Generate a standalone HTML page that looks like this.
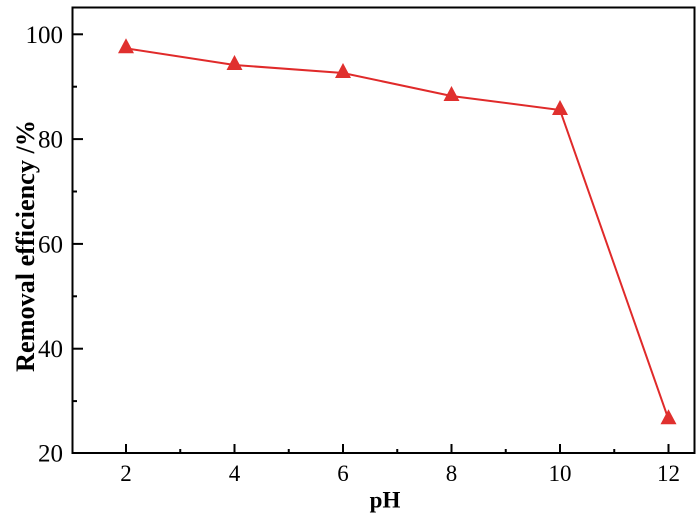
<!DOCTYPE html>
<html>
<head>
<meta charset="utf-8">
<style>
  html, body { margin: 0; padding: 0; background: #fff; }
  svg { display: block; }
  text { font-family: "Liberation Serif", "Times New Roman", serif; fill: #000; }
</style>
</head>
<body>
<svg width="700" height="516" viewBox="0 0 700 516" xmlns="http://www.w3.org/2000/svg">
  <rect x="0" y="0" width="700" height="516" fill="#fff"/>

  <!-- data line -->
  <polyline points="126,48.3 234.5,65 343,73 451.5,96 560,110 668.5,419.3"
            fill="none" stroke="#e02a2a" stroke-width="2"/>

  <!-- markers -->
  <g fill="#e0302e">
    <polygon points="126,38.3 118,53.3 134,53.3"/>
    <polygon points="234.5,55 226.5,70 242.5,70"/>
    <polygon points="343,63 335,78 351,78"/>
    <polygon points="451.5,86 443.5,101 459.5,101"/>
    <polygon points="560,100 552,115 568,115"/>
    <polygon points="668.5,409.3 660.5,424.3 676.5,424.3"/>
  </g>

  <!-- frame -->
  <rect x="72.5" y="7.5" width="622" height="445.5" fill="none" stroke="#000" stroke-width="2"/>

  <!-- bottom ticks -->
  <g stroke="#000" stroke-width="2">
    <line x1="126" y1="453" x2="126" y2="444"/>
    <line x1="234.5" y1="453" x2="234.5" y2="444"/>
    <line x1="343" y1="453" x2="343" y2="444"/>
    <line x1="451.5" y1="453" x2="451.5" y2="444"/>
    <line x1="560" y1="453" x2="560" y2="444"/>
    <line x1="668.5" y1="453" x2="668.5" y2="444"/>
    <line x1="180.25" y1="453" x2="180.25" y2="449"/>
    <line x1="288.75" y1="453" x2="288.75" y2="449"/>
    <line x1="397.25" y1="453" x2="397.25" y2="449"/>
    <line x1="505.75" y1="453" x2="505.75" y2="449"/>
    <line x1="614.25" y1="453" x2="614.25" y2="449"/>
  </g>

  <!-- left ticks -->
  <g stroke="#000" stroke-width="2">
    <line x1="72.5" y1="34.3" x2="83" y2="34.3"/>
    <line x1="72.5" y1="139.1" x2="83" y2="139.1"/>
    <line x1="72.5" y1="243.9" x2="83" y2="243.9"/>
    <line x1="72.5" y1="348.7" x2="83" y2="348.7"/>
    <line x1="72.5" y1="86.7" x2="77" y2="86.7"/>
    <line x1="72.5" y1="191.5" x2="77" y2="191.5"/>
    <line x1="72.5" y1="296.3" x2="77" y2="296.3"/>
    <line x1="72.5" y1="401.1" x2="77" y2="401.1"/>
  </g>

  <!-- y tick labels -->
  <g font-size="25" text-anchor="end">
    <text x="63" y="42.8">100</text>
    <text x="63" y="147.6">80</text>
    <text x="63" y="252.4">60</text>
    <text x="63" y="357.2">40</text>
    <text x="63" y="461.5">20</text>
  </g>

  <!-- x tick labels -->
  <g font-size="23" text-anchor="middle">
    <text x="126" y="481">2</text>
    <text x="234.5" y="481">4</text>
    <text x="343" y="481">6</text>
    <text x="451.5" y="481">8</text>
    <text x="560" y="481">10</text>
    <text x="668.5" y="481">12</text>
  </g>

  <!-- axis titles -->
  <text x="385" y="507.5" font-size="23" font-weight="bold" text-anchor="middle">pH</text>
  <text transform="translate(34,246) rotate(-90)" x="0" y="0" font-size="26" font-weight="bold"
        text-anchor="middle" textLength="252" lengthAdjust="spacingAndGlyphs">Removal efficiency /%</text>
</svg>
</body>
</html>
